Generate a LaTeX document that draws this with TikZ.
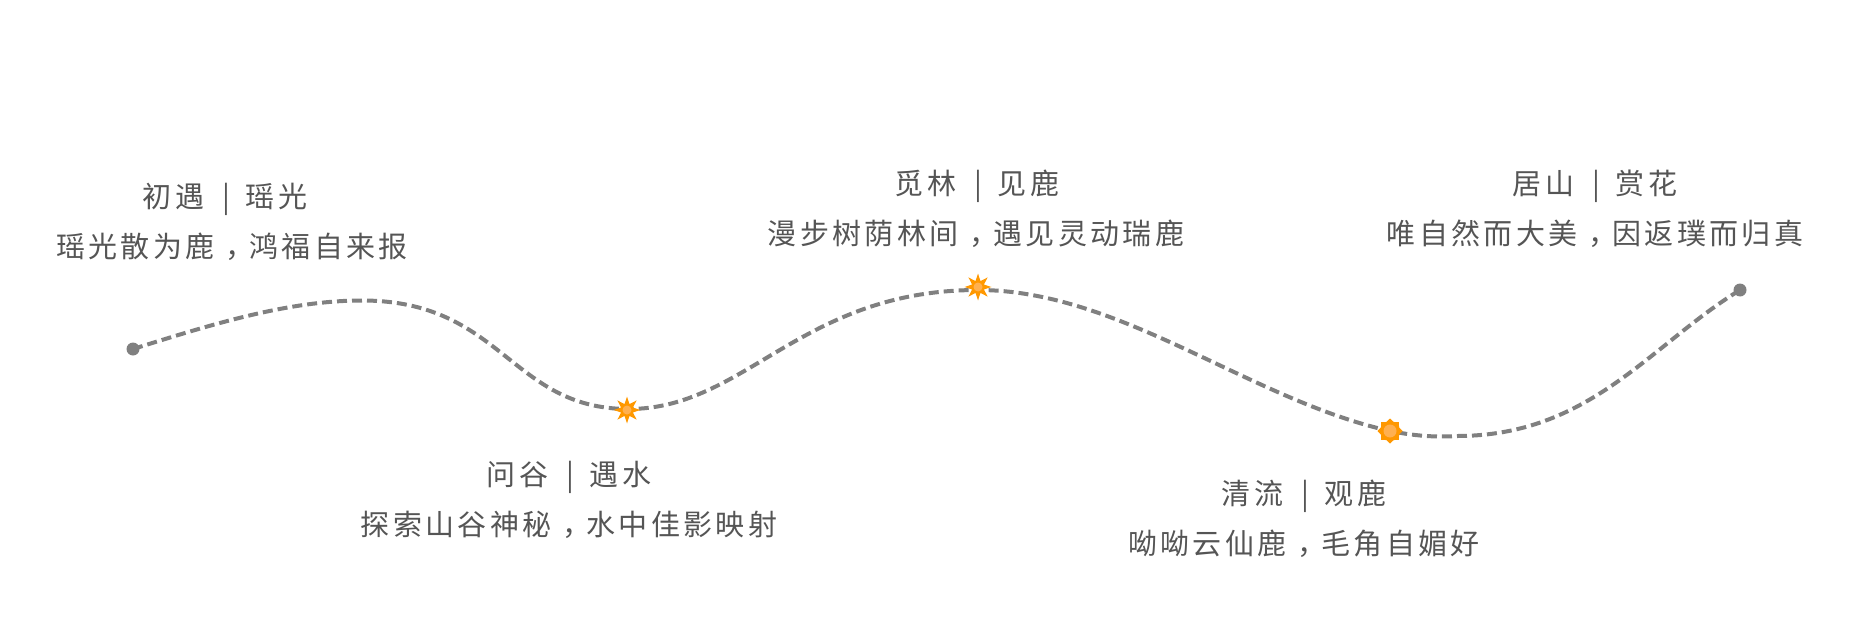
\documentclass[tikz,border=0pt]{standalone}
\usepackage{fontspec}
\usetikzlibrary{shapes.geometric}
\newfontfamily\cjk[LetterSpace=11.5]{Noto Sans CJK SC}
\definecolor{txt}{HTML}{555555}
\definecolor{lin}{HTML}{808080}
\definecolor{org}{HTML}{FF9800}
\definecolor{orl}{HTML}{FFB050}
\newcommand{\sepbar}{\hspace{18pt}|\hspace{16pt}}
\newcommand{\cmma}{\hspace{11pt}，\hspace{-5pt}}
\tikzset{
 label text/.style={inner sep=0pt,text=txt,font=\cjk\fontsize{29}{29}\selectfont,anchor=center},
 dotend/.style={circle,fill=lin,inner sep=0pt,minimum size=13pt},
 burst/.style={star,fill=org,inner sep=0pt,minimum size=27pt,star points=8,star point ratio=2.1},
 burstb/.style={star,fill=org,inner sep=0pt,minimum size=25pt,star points=8,star point ratio=1.28},
 core/.style={circle,fill=orl,inner sep=0pt},
 trail/.style={draw=lin,line width=4pt,dash pattern=on 10pt off 5pt}
}
\begin{document}
\begin{tikzpicture}[x=1pt,y=-1pt]
\useasboundingbox (0,0) rectangle (1854,626);
\node[dotend] (a) at (133,349) {};
\node[dotend] (e) at (1740,290) {};
\coordinate (p) at (362,300.5);
\coordinate (q) at (1457,436);
\draw[trail] (a.center) .. controls (210,325) and (287,300.5) .. (p)
 .. controls (502,300.5) and (510,408) .. (627,409)
 .. controls (745,410) and (800,290) .. (978,290)
 .. controls (1120,290) and (1250,400) .. (1390,431)
 .. controls (1420,437) and (1440,437) .. (q)
 .. controls (1590,436) and (1650,345) .. (e.center);
\node[burst] (s1) at (627,410) {}; \node[core,minimum size=9pt] (c1) at (s1) {};
\node[burst] (s2) at (978,287) {}; \node[core,minimum size=9pt] (c2) at (s2) {};
\node[burstb] (s3) at (1390,431) {}; \node[core,minimum size=13pt] (c3) at (s3) {};
\node[label text] (t1) at (225,199) {初遇\sepbar 瑶光};
\node[label text] (t2) at (232,246.5) {瑶光散为鹿\cmma 鸿福自来报};
\node[label text] (t3) at (569,477) {问谷\sepbar 遇水};
\node[label text] (t4) at (569,524.5) {探索山谷神秘\cmma 水中佳影映射};
\node[label text] (t5) at (977,186) {觅林\sepbar 见鹿};
\node[label text] (t6) at (976,233.5) {漫步树荫林间\cmma 遇见灵动瑞鹿};
\node[label text] (t7) at (1595,186) {居山\sepbar 赏花};
\node[label text] (t8) at (1595,233.5) {唯自然而大美\cmma 因返璞而归真};
\node[label text] (t9) at (1304,496) {清流\sepbar 观鹿};
\node[label text] (t10) at (1304,543.5) {呦呦云仙鹿\cmma 毛角自媚好};
\end{tikzpicture}
\end{document}
